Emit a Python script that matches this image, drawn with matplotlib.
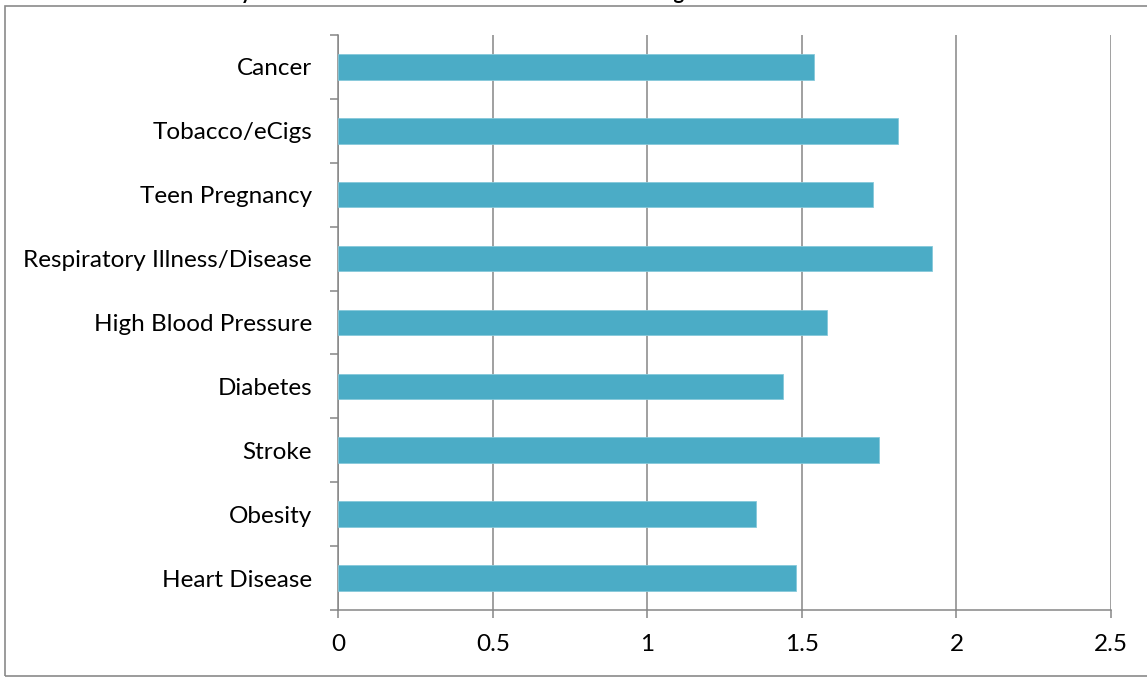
"""Horizontal bar chart of average ranking per health issue."""

import matplotlib.pyplot as plt
from matplotlib.font_manager import FontProperties
from matplotlib.patches import Rectangle
from matplotlib.ticker import FixedLocator

# bottom to top, as drawn
categories = [
    "Heart Disease",
    "Obesity",
    "Stroke",
    "Diabetes",
    "High Blood Pressure",
    "Respiratory Illness/Disease",
    "Teen Pregnancy",
    "Tobacco/eCigs",
    "Cancer",
]
values = [1.48, 1.35, 1.75, 1.44, 1.58, 1.92, 1.73, 1.81, 1.54]
x_ticks = [0, 0.5, 1, 1.5, 2, 2.5]
x_tick_labels = ["0", "0.5", "1", "1.5", "2", "2.5"]
title = "Community Health Issues Rated as the Most Serious Among Residents"

bar_color = "#4BACC6"
grid_color = "#868686"

plt.rcParams["font.family"] = ["Lato", "DejaVu Sans"]

figure = plt.figure(figsize=(11.47, 6.77), dpi=100)
axes = figure.add_axes([0.2951, 0.0990, 0.6735, 0.8493])

positions = range(len(categories))
axes.barh(
    positions,
    values,
    height=0.4,
    color=bar_color,
    edgecolor="#86c9da",
    linewidth=0.6,
    zorder=3,
)

axes.set_xlim(0, 2.5)
axes.set_ylim(-0.5, len(categories) - 0.5)
axes.set_xticks(x_ticks)
axes.set_xticklabels(x_tick_labels)
axes.set_yticks(list(positions))
axes.set_yticklabels(categories)
axes.yaxis.set_minor_locator(FixedLocator([p - 0.5 for p in range(len(categories) + 1)]))

axes.grid(axis="x", color=grid_color, linewidth=1.1, zorder=0)
for side in ("top", "right"):
    axes.spines[side].set_visible(False)
for side in ("left", "bottom"):
    axes.spines[side].set_color(grid_color)
    axes.spines[side].set_linewidth(1.1)

axes.tick_params(axis="x", length=6, width=1.1, color=grid_color, pad=11,
                 labelsize=17.5, labelcolor="black")
axes.tick_params(axis="y", which="major", length=0, pad=19,
                 labelsize=17.5, labelcolor="black")
axes.tick_params(axis="y", which="minor", length=6, width=1.1, color=grid_color)

# outer chart border, cut off at the right edge of the picture
figure.patches.append(
    Rectangle(
        (4.5 / 1147, 1.5 / 677),
        1.0,
        1 - 7.5 / 677,
        transform=figure.transFigure,
        fill=False,
        edgecolor="#8a8a8a",
        linewidth=1.2,
        clip_on=False,
    )
)

# The title sits above the visible area; only the descenders of its
# "y" and "g" peek in, at about x=246 and x=680 px in the reference.
renderer = figure.canvas.get_renderer()
probe = FontProperties(family=["Lato", "DejaVu Sans"], weight="bold", size=10)


def text_width(text):
    return renderer.get_text_width_height_descent(text, probe, ismath=False)[0]


y_index = title.index("y")
g_index = title.index("g")
y_centre = text_width(title[:y_index]) + text_width("y") / 2
g_centre = text_width(title[:g_index]) + text_width("g") / 2
title_size = 10 * (680 - 246) / (g_centre - y_centre)
title_left = 246 - y_centre * title_size / 10

figure.text(title_left / 1147, 1 + 1.0 / 677, title, ha="left", va="baseline",
            fontsize=title_size, fontweight="bold")

figure.savefig("out.png", dpi=100)
